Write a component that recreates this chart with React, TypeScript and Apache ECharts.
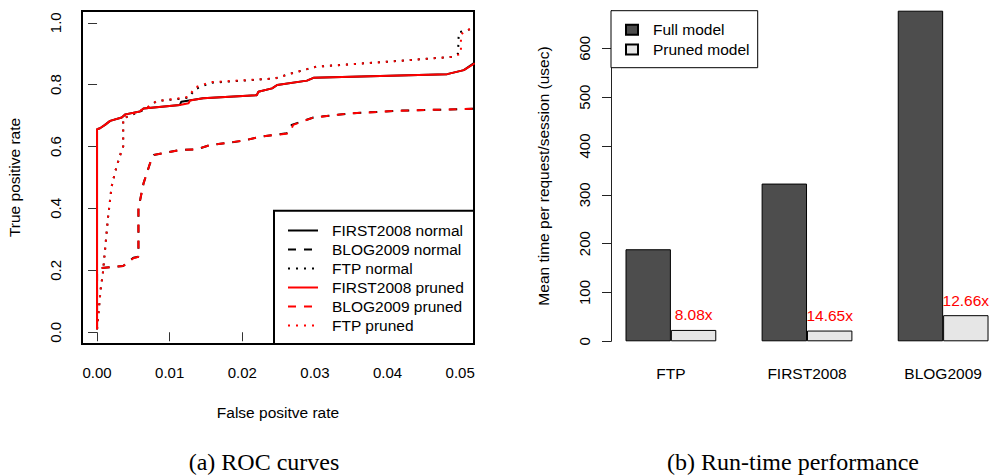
import React, { useEffect, useRef } from "react";
import * as echarts from "echarts";

// ---------- Data: (a) ROC curves ----------
const first2008Normal: number[][] = [
  [0, 0.01], [0, 0.656], [0.0004, 0.659], [0.0011, 0.67], [0.0018, 0.683], [0.0034, 0.694],
  [0.0039, 0.704], [0.0059, 0.713], [0.0064, 0.723], [0.0114, 0.734], [0.0116, 0.745],
  [0.0146, 0.756], [0.022, 0.766], [0.0222, 0.777], [0.0241, 0.788], [0.0248, 0.799],
  [0.0289, 0.813], [0.0298, 0.822], [0.0482, 0.834], [0.0505, 0.847], [0.052, 0.871],
];
const first2008Pruned: number[][] = [
  [0, 0.01], [0, 0.656], [0.0004, 0.659], [0.0011, 0.67], [0.0018, 0.683], [0.0034, 0.694],
  [0.0039, 0.704], [0.0059, 0.713], [0.0064, 0.723], [0.0114, 0.734], [0.0126, 0.74],
  [0.0128, 0.749], [0.0146, 0.756], [0.022, 0.766], [0.0222, 0.777], [0.0241, 0.788],
  [0.0248, 0.799], [0.0289, 0.813], [0.0298, 0.822], [0.0482, 0.834], [0.0505, 0.847],
  [0.052, 0.869],
];
const blog2009Normal: number[][] = [
  [0, 0.01], [0, 0.2], [0.0005, 0.207], [0.0036, 0.214], [0.005, 0.241], [0.0057, 0.244],
  [0.0057, 0.4], [0.0064, 0.481], [0.0073, 0.546], [0.0078, 0.573], [0.0114, 0.589],
  [0.0137, 0.591], [0.0156, 0.605], [0.0202, 0.619], [0.0225, 0.632], [0.0261, 0.643],
  [0.0268, 0.67], [0.0298, 0.694], [0.0348, 0.707], [0.0417, 0.716], [0.052, 0.722],
];
const blog2009Pruned: number[][] = [
  [0, 0.01], [0, 0.2], [0.0005, 0.207], [0.0036, 0.214], [0.005, 0.239], [0.0057, 0.244],
  [0.0057, 0.4], [0.0064, 0.481], [0.0073, 0.546], [0.0078, 0.573], [0.0114, 0.589],
  [0.0137, 0.591], [0.0156, 0.605], [0.0202, 0.619], [0.0225, 0.632], [0.0265, 0.643],
  [0.027, 0.67], [0.0298, 0.694], [0.0348, 0.707], [0.0417, 0.716], [0.052, 0.722],
];
const ftpNormal: number[][] = [
  [0, 0.01], [0.0005, 0.139], [0.0008, 0.19], [0.0011, 0.266], [0.0015, 0.368], [0.002, 0.47],
  [0.0025, 0.519], [0.0031, 0.567], [0.0036, 0.6], [0.0036, 0.691], [0.0068, 0.722],
  [0.0082, 0.747], [0.0114, 0.754], [0.0126, 0.758], [0.0135, 0.785], [0.0156, 0.806],
  [0.0245, 0.82], [0.027, 0.838], [0.0302, 0.858], [0.0417, 0.877], [0.049, 0.89],
  [0.0497, 0.9], [0.0498, 0.969], [0.052, 0.983],
];
const ftpPruned: number[][] = [
  [0, 0.01], [0.0005, 0.139], [0.0008, 0.19], [0.0011, 0.266], [0.0015, 0.368], [0.002, 0.47],
  [0.0025, 0.519], [0.0031, 0.567], [0.0036, 0.6], [0.0036, 0.691], [0.0068, 0.725],
  [0.0082, 0.747], [0.0114, 0.756], [0.0126, 0.761], [0.0135, 0.791], [0.0156, 0.808],
  [0.0245, 0.82], [0.027, 0.838], [0.0302, 0.858], [0.0417, 0.877], [0.049, 0.89],
  [0.0501, 0.9], [0.0501, 0.962], [0.0508, 0.976], [0.052, 0.983],
];
const rocXTicks = [0, 0.01, 0.02, 0.03, 0.04, 0.05];
const rocYTicks = [0, 0.2, 0.4, 0.6, 0.8, 1.0];

// ---------- Data: (b) Run-time performance ----------
const datasets = ["FTP", "FIRST2008", "BLOG2009"];
const fullModelTimes = [188.5, 323, 677];
const prunedModelTimes = [23.3, 22.0, 53.5];
const speedups = ["8.08x", "14.65x", "12.66x"];
const timeTicks = [0, 100, 200, 300, 400, 500, 600];

const SANS = "'Liberation Sans', Arial, sans-serif";
const SERIF = "'Liberation Serif', 'Times New Roman', serif";
const FS = 15.5;

export default function App() {
  const ref = useRef<HTMLDivElement>(null);

  useEffect(() => {
    if (!ref.current) return;
    const chart = echarts.init(ref.current, undefined, { renderer: "svg" });

    const rocLine = (name: string, data: number[][], color: string, type: any) => ({
      name,
      type: "line",
      xAxisIndex: 0,
      yAxisIndex: 0,
      data,
      symbol: "none",
      showSymbol: false,
      clip: true,
      lineStyle: { color, width: 2, type, cap: "butt" },
      itemStyle: { color },
      z: 3,
    });

    const option: any = {
      animation: false,
      backgroundColor: "#ffffff",
      textStyle: { fontFamily: SANS },
      grid: [
        { left: 82, top: 11, width: 392, height: 333, show: true, borderColor: "#000", borderWidth: 2, backgroundColor: "transparent" },
        { left: 611, top: 10.7, width: 379, height: 330.6 },
      ],
      xAxis: [
        {
          type: "value",
          gridIndex: 0,
          min: -0.00207,
          max: 0.0519,
          splitLine: { show: false },
          axisLine: { show: false },
          axisTick: { show: true, inside: false, length: 9, lineStyle: { color: "#333", width: 1 }, customValues: rocXTicks },
          axisLabel: {
            customValues: rocXTicks,
            formatter: (v: number) => v.toFixed(2),
            fontFamily: SANS, fontSize: 15, color: "#000", margin: 21,
          },
          name: "False positve rate",
          nameLocation: "middle",
          nameGap: 60,
          nameTextStyle: { fontFamily: SANS, fontSize: FS, color: "#000" },
        },
        {
          type: "value",
          gridIndex: 1,
          min: 0.68,
          max: 9.033,
          splitLine: { show: false },
          axisLine: { show: false },
          axisTick: { show: false },
          axisLabel: {
            customValues: [2, 5, 8],
            formatter: (v: number) => datasets[Math.round((v - 2) / 3)] ?? "",
            fontFamily: SANS, fontSize: FS, color: "#000", margin: 24,
          },
        },
      ],
      yAxis: [
        {
          type: "value",
          gridIndex: 0,
          min: -0.038,
          max: 1.038,
          splitLine: { show: false },
          axisLine: { show: false },
          axisTick: { show: true, length: 9, lineStyle: { color: "#333", width: 1 }, customValues: rocYTicks },
          axisLabel: {
            customValues: rocYTicks,
            formatter: (v: number) => v.toFixed(1),
            rotate: 90, fontFamily: SANS, fontSize: 15, color: "#000", margin: 19,
          },
          name: "True positive rate",
          nameLocation: "middle",
          nameGap: 60,
          nameRotate: 90,
          nameTextStyle: { fontFamily: SANS, fontSize: FS, color: "#000" },
        },
        {
          type: "value",
          gridIndex: 1,
          min: 0,
          max: 677,
          splitLine: { show: false },
          axisLine: { show: true, lineStyle: { color: "#222", width: 1 } },
          axisTick: { show: true, length: 9, lineStyle: { color: "#222", width: 1 }, customValues: timeTicks },
          axisLabel: {
            customValues: timeTicks,
            rotate: 90, fontFamily: SANS, fontSize: 15, color: "#000", margin: 19,
          },
          name: "Mean time per request/session (usec)",
          nameLocation: "middle",
          nameGap: 60,
          nameRotate: 90,
          nameTextStyle: { fontFamily: SANS, fontSize: FS, color: "#000" },
        },
      ],
      legend: [
        {
          orient: "vertical",
          left: 287,
          top: 221,
          itemWidth: 30,
          itemHeight: 14,
          itemGap: 0,
          padding: 0,
          z: 60,
          itemStyle: { color: "rgba(0,0,0,0)", borderWidth: 0, opacity: 0 },
          data: ["FIRST2008 normal", "BLOG2009 normal", "FTP normal", "FIRST2008 pruned", "BLOG2009 pruned", "FTP pruned"],
          textStyle: { fontFamily: SANS, fontSize: FS, color: "#000", lineHeight: 19, padding: [0, 0, 0, 9] },
          selectedMode: false,
        },
        {
          orient: "vertical",
          left: 625,
          top: 20,
          itemWidth: 12,
          itemHeight: 10,
          itemGap: 0,
          padding: 0,
          icon: "rect",
          z: 60,
          data: ["Full model", "Pruned model"],
          textStyle: { fontFamily: SANS, fontSize: FS, color: "#000", lineHeight: 19.7, padding: [0, 0, 0, 10] },
          selectedMode: false,
        },
      ],
      graphic: [
        { type: "rect", z: 50, shape: { x: 274, y: 210.7, width: 200, height: 133.3 }, style: { fill: "#fff", stroke: "#000", lineWidth: 2 } },
        { type: "rect", z: 50, shape: { x: 611, y: 10.7, width: 146.7, height: 57 }, style: { fill: "#fff", stroke: "#000", lineWidth: 1 } },
        { type: "text", z: 50, x: 264, y: 462, style: { text: "(a) ROC curves", font: `24px ${SERIF}`, fill: "#000", align: "center", verticalAlign: "middle" } },
        { type: "text", z: 50, x: 793, y: 462, style: { text: "(b) Run-time performance", font: `24px ${SERIF}`, fill: "#000", align: "center", verticalAlign: "middle" } },
      ],
      series: [
        rocLine("FIRST2008 normal", first2008Normal, "#000000", "solid"),
        rocLine("BLOG2009 normal", blog2009Normal, "#000000", [8, 8]),
        rocLine("FTP normal", ftpNormal, "#000000", [2, 6]),
        rocLine("FIRST2008 pruned", first2008Pruned, "#ff0000", "solid"),
        rocLine("BLOG2009 pruned", blog2009Pruned, "#ff0000", [8, 8]),
        rocLine("FTP pruned", ftpPruned, "#ff0000", [2, 6]),
        {
          name: "Full model",
          type: "bar",
          xAxisIndex: 1,
          yAxisIndex: 1,
          barWidth: 45.4,
          barGap: "-100%",
          data: fullModelTimes.map((v, i) => [3 * i + 1.5, v]),
          itemStyle: { color: "#4d4d4d", borderColor: "#000", borderWidth: 1 },
        },
        {
          name: "Pruned model",
          type: "bar",
          xAxisIndex: 1,
          yAxisIndex: 1,
          barWidth: 45.4,
          barGap: "-100%",
          data: prunedModelTimes.map((v, i) => [3 * i + 2.5, v]),
          itemStyle: { color: "#e6e6e6", borderColor: "#000", borderWidth: 1 },
          label: {
            show: true,
            position: "top",
            distance: 7,
            color: "#ff0000",
            fontFamily: SANS,
            fontSize: FS,
            formatter: (p: any) => speedups[p.dataIndex],
          },
        },
      ],
    };

    chart.setOption(option);
    return () => chart.dispose();
  }, []);

  return (
    <div
      ref={ref}
      style={{ position: "fixed", left: 0, top: 0, width: 990, height: 476, background: "#fff" }}
    />
  );
}
